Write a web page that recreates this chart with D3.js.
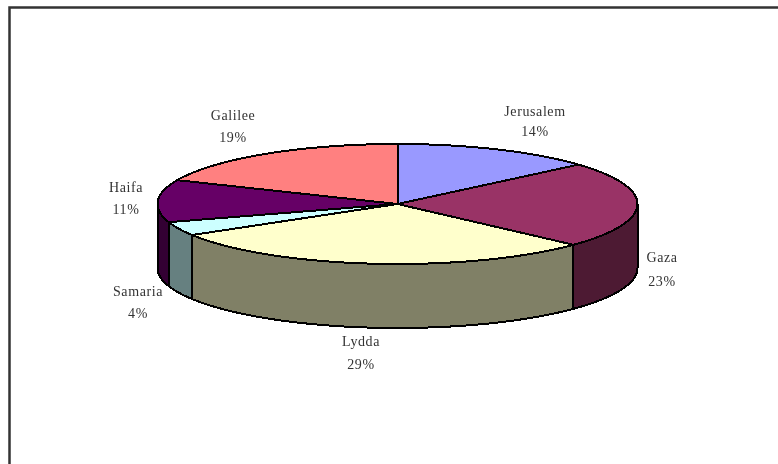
<!DOCTYPE html>
<html>
<head>
<meta charset="utf-8">
<script src="https://cdn.jsdelivr.net/npm/d3@7"></script>
<style>
  html, body { margin: 0; padding: 0; background: #fff; }
  svg { display: block; filter: blur(0.45px); }
</style>
</head>
<body>
<svg id="chart" width="778" height="464"></svg>
<script>
const regions = ['Jerusalem', 'Gaza', 'Lydda', 'Samaria', 'Haifa', 'Galilee'];
// the labels are these values rounded
const shares = [13.6, 23.3, 29.45, 3.75, 11.4, 18.5];
const topColors = ['#9999ff', '#993366', '#ffffcc', '#ccffff', '#660066', '#ff8080'];
const sideColors = ['#4d4d80', '#4d1a33', '#808066', '#668080', '#330033', '#804040'];

const width = 778, height = 464;
const cx = 397.5, cy = 204, rx = 240, ry = 60, depth = 64;
// label centre x, then baselines of the two lines
const labelSpots = [[535, 116, 136], [662, 262, 286], [361, 346, 369], [138, 296, 318], [126, 192, 214], [233, 120, 142]];

const svg = d3.select('#chart');

// frame of the pasted chart, open on the right and at the bottom
svg.append('path')
  .attr('d', `M9.5,${height}V7.5H${width}`)
  .attr('fill', 'none')
  .attr('stroke', '#333')
  .attr('stroke-width', 2.5);

const x = d3.scaleLinear().domain([-1, 1]).range([cx - rx, cx + rx]);
const y = d3.scaleLinear().domain([-1, 1]).range([cy - ry, cy + ry]);

const slices = d3.pie().sort(null).value(d => d)(shares);

// angle 0 is the top of the ellipse, going clockwise
const rim = (a, drop = 0) => [x(Math.sin(a)), y(-Math.cos(a)) + drop];
const rimPoints = (a0, a1, drop = 0) => d3.range(0, 61).map(i => rim(a0 + (a1 - a0) * i / 60, drop));
const line = d3.line();

const g = svg.append('g')
  .attr('stroke', '#000')
  .attr('stroke-width', 2)
  .attr('stroke-linejoin', 'round')
  .attr('shape-rendering', 'crispEdges');

// outer wall, only where the rim faces the viewer
slices.forEach((d, i) => {
  const a0 = Math.max(d.startAngle, Math.PI / 2);
  const a1 = Math.min(d.endAngle, Math.PI * 3 / 2);
  if (a0 >= a1) return;
  const upper = rimPoints(a0, a1);
  const lower = rimPoints(a0, a1, depth).reverse();
  g.append('path')
    .attr('d', line(upper.concat(lower)) + 'Z')
    .attr('fill', sideColors[i]);
});

// top face
slices.forEach((d, i) => {
  const pts = [[x(0), y(0)]].concat(rimPoints(d.startAngle, d.endAngle));
  g.append('path')
    .attr('d', line(pts) + 'Z')
    .attr('fill', topColors[i]);
});

const labels = svg.append('g')
  .attr('font-family', '"Liberation Serif", serif')
  .attr('font-size', 14)
  .attr('letter-spacing', 0.6)
  .attr('fill', '#333')
  .attr('text-anchor', 'middle');

regions.forEach((name, i) => {
  const [lx, y1, y2] = labelSpots[i];
  const t = labels.append('text');
  t.append('tspan').attr('x', lx).attr('y', y1).text(name);
  t.append('tspan').attr('x', lx).attr('y', y2).text(Math.round(shares[i]) + '%');
});
</script>
</body>
</html>
